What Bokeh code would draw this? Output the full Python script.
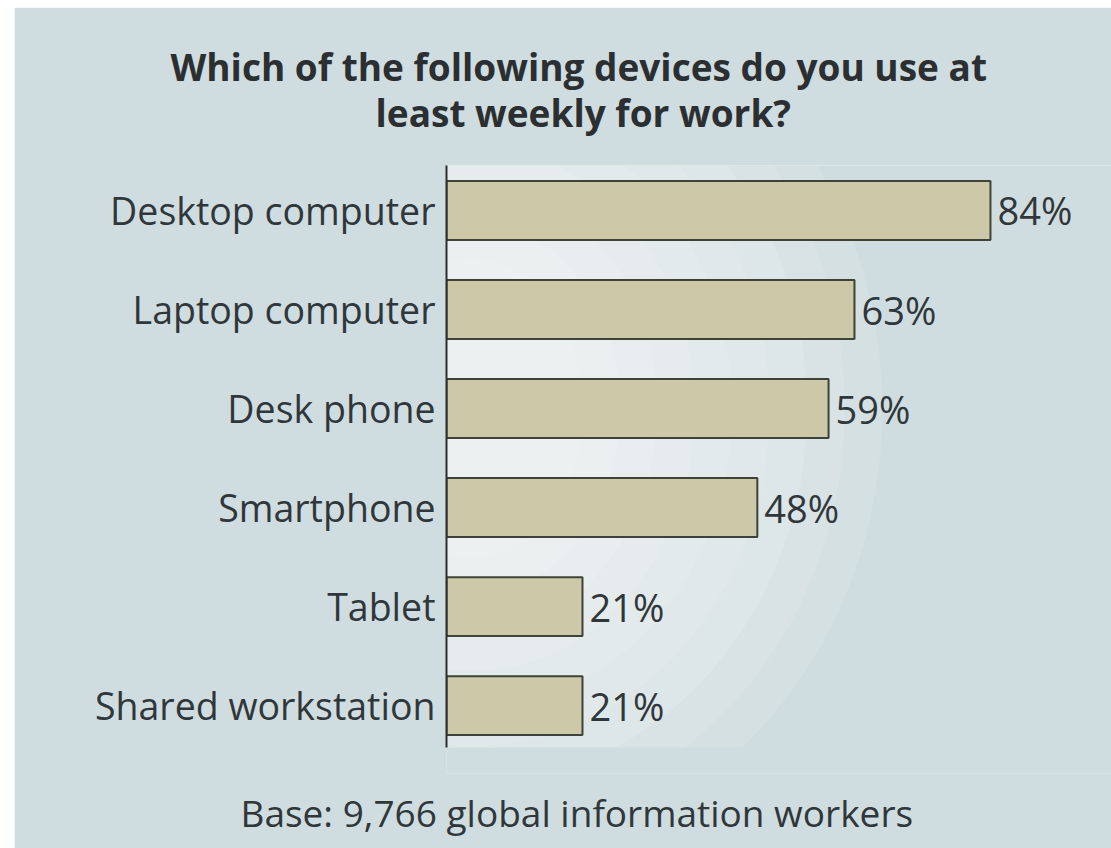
from bokeh.plotting import figure
from bokeh.models import Range1d, FixedTicker, Title, ColumnDataSource
from bokeh.embed import file_html
from bokeh.resources import INLINE
from bokeh.core.properties import value

# ---- data ----
categories = ["Desktop computer", "Laptop computer", "Desk phone",
              "Smartphone", "Tablet", "Shared workstation"]
percentages = [84, 63, 59, 48, 21, 21]
value_labels = [f"{v}%" for v in percentages]
title_lines = ["Which of the following devices do you use at",
               "least weekly for work?"]
footer_text = "Base: 9,766 global information workers"

# ---- style ----
BG = "#d0dde0"
BAR_FILL = "#cdc8a8"
BAR_LINE = "#3e4339"
TEXT = "#30373a"
FONT = "Open Sans"
X_END = 102.69
AXIS_TOP, AXIS_BOTTOM = -0.454, 5.423      # extent of the category axis line
FRAME_BOTTOM = 5.685                        # plot frame reaches a bit lower

positions = list(range(len(categories)))
src = ColumnDataSource(dict(y=positions, v=percentages, lab=value_labels, cat=categories))

p = figure(width=1097, height=841, output_backend="svg", toolbar_location=None,
           x_range=Range1d(0, X_END), y_range=Range1d(FRAME_BOTTOM, AXIS_TOP),
           min_border_left=432, min_border_right=0, min_border_top=158,
           min_border_bottom=74)
p.styles = {"margin-left": "14px", "margin-top": "7px"}
p.background_fill_color = BG
p.border_fill_color = BG
p.outline_line_color = None
p.grid.visible = False
p.xaxis.visible = False

# soft light glow behind the bars (decoration)
glow_x = [4.0] * 9
glow_y = [2.0] * 9
glow_w = [820 - 75 * i for i in range(9)]
glow_h = [900 - 75 * i for i in range(9)]
p.ellipse(x=glow_x, y=glow_y, width=glow_w, height=glow_h,
          width_units="screen", height_units="screen",
          fill_color="white", fill_alpha=0.11, line_color=None)
# keep the glow inside the axis extent
p.quad(left=[-1], right=[X_END + 1], top=[AXIS_BOTTOM], bottom=[FRAME_BOTTOM + 0.3],
       fill_color=BG, line_color=None)

p.hbar(y="y", right="v", left=0, height=0.595, source=src,
       fill_color=BAR_FILL, line_color=BAR_LINE, line_width=2)

p.text(x="v", y="y", text="lab", source=src, x_offset=7,
       text_align="left", text_baseline="middle",
       text_font=value(FONT), text_font_size="38px", text_color=TEXT)

ax = p.yaxis[0]
ax.ticker = FixedTicker(ticks=positions)
ax.major_label_overrides = {i: c for i, c in zip(positions, categories)}
ax.major_label_text_font = FONT
ax.major_label_text_font_size = "37.5px"
ax.major_label_text_color = TEXT
ax.major_label_standoff = 5
ax.major_tick_line_color = None
ax.minor_tick_line_color = None
ax.axis_line_color = "#2a2e30"
ax.axis_line_width = 2
ax.bounds = (AXIS_TOP, AXIS_BOTTOM)

# title (two lines) above, footer below
p.title.visible = False
p.add_layout(Title(text=title_lines[1], align="left", offset=-71,
                   text_font=FONT, text_font_style="bold", text_font_size="37px",
                   text_color="#2b2f31", standoff=55), "above")
p.add_layout(Title(text=title_lines[0], align="left", offset=-276,
                   text_font=FONT, text_font_style="bold", text_font_size="37px",
                   text_color="#2b2f31", standoff=-68), "above")
p.add_layout(Title(text=footer_text, align="left", offset=-206,
                   text_font=FONT, text_font_style="normal", text_font_size="37px",
                   text_color=TEXT, standoff=22), "below")

open("out.html", "w").write(file_html(p, INLINE))
